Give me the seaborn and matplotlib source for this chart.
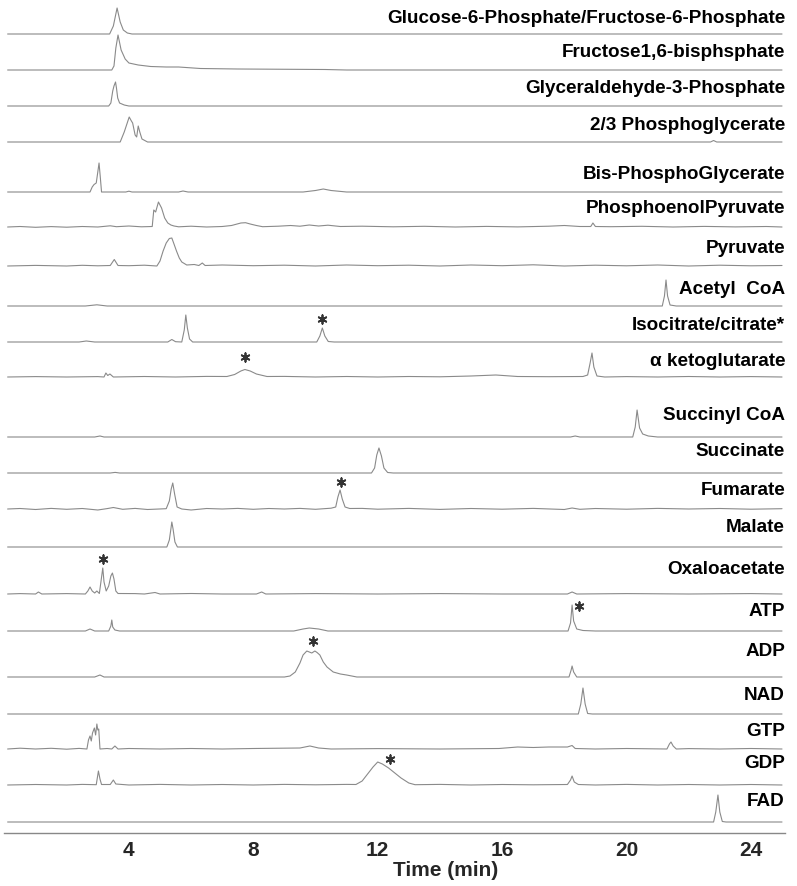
import numpy as np
import pandas as pd
import matplotlib.pyplot as plt
import matplotlib.transforms as mtransforms
import seaborn as sns

# metabolite names, top to bottom
names = [
    'Glucose-6-Phosphate/Fructose-6-Phosphate', 'Fructose1,6-bisphsphate',
    'Glyceraldehyde-3-Phosphate', '2/3 Phosphoglycerate', 'Bis-PhosphoGlycerate',
    'PhosphoenolPyruvate', 'Pyruvate', 'Acetyl  CoA', 'Isocitrate/citrate*',
    'α ketoglutarate', 'Succinyl CoA', 'Succinate', 'Fumarate', 'Malate',
    'Oxaloacetate', 'ATP', 'ADP', 'NAD', 'GTP', 'GDP', 'FAD',
]

# (time in min, signal)
g6p = [(0.1, 0), (3.38, 0), (3.5, 8), (3.62, 26), (3.72, 12), (3.82, 4), (3.95, 1), (4.1, 0), (25.0, 0)]
f16bp = [(0.1, 0), (3.45, 0), (3.52, 4), (3.58, 22), (3.65, 35), (3.75, 20), (3.88, 11), (4.0, 7),
         (4.3, 5), (4.7, 3.5), (5.2, 3), (5.6, 3), (6.3, 1.5), (7.5, 1), (10.3, 0.5), (11.0, 0), (25.0, 0)]
g3p = [(0.1, 0), (3.35, 0), (3.42, 3), (3.48, 15), (3.52, 20), (3.57, 24), (3.6, 18), (3.64, 8),
       (3.7, 3), (3.85, 1), (4.0, 0), (25.0, 0)]
pg23 = [(0.1, 0), (3.72, 0), (3.85, 10), (4.01, 25), (4.08, 21), (4.12, 19), (4.2, 7), (4.25, 5),
        (4.3, 16), (4.35, 10), (4.42, 3), (4.6, 0), (22.7, 0), (22.8, 1.5), (22.9, 0), (25.0, 0)]
bpg = [(0.1, 0), (2.75, 0), (2.82, 5), (2.88, 7.5), (2.95, 9), (3.0, 20), (3.04, 29), (3.08, 15),
       (3.12, 0), (3.9, 0), (4.0, 0.8), (4.1, 0), (5.6, 0), (5.74, 1), (5.9, 0), (9.6, 0), (10.0, 1.5),
       (10.25, 3), (10.5, 1.5), (11.0, 0), (25.0, 0)]
pep = [(0.1, 0), (0.5, 0.5), (1.0, -0.3), (1.5, 0.4), (2.0, -0.2), (2.5, 0.5), (3.0, 0), (3.4, 1.2),
       (3.6, 0.3), (4.0, 1), (4.4, 0.2), (4.75, 0.5), (4.8, 17), (4.86, 15), (4.95, 25), (5.05, 19),
       (5.15, 9), (5.25, 4), (5.35, 2), (5.45, 1), (5.6, 0.2), (6.0, 0.8), (6.5, 0), (7.0, 0.5),
       (7.3, 1.5), (7.6, 4), (7.75, 4.3), (7.9, 3), (8.1, 1.5), (8.3, 0.3), (8.8, 0.8), (9.2, 1.5),
       (9.5, 0.8), (9.8, 2), (10.1, 1), (10.4, 1.8), (10.8, 0.5), (11.5, 0.8), (12.5, 0.2), (13.5, 0.7),
       (14.5, 0), (15.5, 0.6), (16.5, 0.1), (17.5, 0.8), (18.0, 1.5), (18.5, 0.5), (18.85, 0.5),
       (18.92, 4), (19.0, 0.5), (19.5, 0.3), (20.5, 0.7), (21.5, 0), (22.5, 0.6), (23.5, 0.1),
       (24.5, 0.5), (25.0, 0)]
pyruvate = [(0.1, 0), (1.0, 0.6), (2.0, 0), (2.5, 0.7), (3.0, 0.2), (3.4, 0.5), (3.53, 6.5), (3.65, 0.5),
            (4.0, 0.3), (4.5, 0.8), (4.9, 0), (5.0, 5), (5.1, 15), (5.2, 23), (5.3, 27.5), (5.38, 28),
            (5.45, 22), (5.53, 15), (5.62, 8), (5.7, 4), (5.86, 1), (6.1, 1.5), (6.25, 0.5), (6.36, 3),
            (6.45, 0.5), (7, 1), (8, 0.3), (9, 0.8), (10, 0), (11, 1), (12, 0.3), (13, 0.8), (14, 0),
            (15, 1), (16, 0.3), (17, 1.2), (18, 0), (19, 0.8), (20, 0.2), (21, 1), (22, 0), (23, 0.8),
            (24, 0.2), (25.0, 0.5)]
acetyl = [(0.1, 0), (2.6, 0), (2.97, 1.2), (3.3, 0), (21.15, 0), (21.22, 10), (21.27, 26), (21.32, 10),
          (21.4, 1), (21.6, 0), (25.0, 0)]
isocit = [(0.1, 0), (2.4, 0), (2.63, 1), (2.9, 0), (5.25, 0), (5.38, 2.5), (5.5, 0.3), (5.7, 0),
          (5.78, 12), (5.83, 27), (5.88, 14), (5.95, 3), (6.05, 0), (10.04, 0), (10.14, 6), (10.22, 14),
          (10.3, 6), (10.41, 0.5), (10.6, 0), (25.0, 0)]
akg = [(0.1, 0), (1, 0.4), (2, 0), (3.0, 0.4), (3.2, 0), (3.26, 4), (3.32, 1.5), (3.39, 3), (3.5, 0),
       (4.5, 0.5), (5.5, 0), (6.5, 0.6), (7.15, 0.5), (7.4, 2.5), (7.6, 6), (7.73, 7.5), (7.9, 6),
       (8.1, 3), (8.44, 0.5), (9, 0.6), (10, 0), (11, 0.5), (12, 0), (13, 0.5), (14, 0.2), (15, 1),
       (15.8, 2), (16.5, 0.5), (17.5, 0.3), (18.6, 0.5), (18.75, 2), (18.83, 14), (18.89, 24),
       (18.95, 10), (19.05, 1), (19.3, 0), (20, 0.4), (21, 0), (22, 0.5), (23, 0), (24, 0.4), (25.0, 0)]
succoa = [(0.1, 0), (2.9, 0), (3.07, 1), (3.2, 0), (18.2, 0), (18.35, 1), (18.5, 0), (20.2, 0),
          (20.28, 10), (20.34, 27), (20.42, 9), (20.52, 3), (20.7, 1), (21.0, 0), (25.0, 0)]
succinate = [(0.1, 0), (3.4, 0), (3.56, 0.6), (3.7, 0), (11.8, 0), (11.9, 5), (11.97, 18), (12.04, 25),
             (12.12, 17), (12.2, 5), (12.32, 0.5), (12.5, 0), (25.0, 0)]
fumarate = [(0.1, 0), (0.5, 0.5), (1, -0.5), (1.5, 0.6), (2, -0.3), (2.5, 0.5), (3.0, -1), (3.3, 0.4),
            (3.5, 1.5), (3.8, -0.3), (4.2, 0.6), (4.6, -0.5), (5.2, 0.3), (5.3, 8), (5.36, 20),
            (5.41, 26), (5.47, 15), (5.55, 2), (5.7, 0), (6.0, -1), (6.5, 0.5), (7, 0), (7.5, 0.6),
            (8, -0.3), (8.5, 0.5), (9, 0), (9.5, 0.6), (10, -0.3), (10.5, 0.8), (10.65, 2), (10.72, 12),
            (10.79, 19), (10.86, 10), (10.95, 2), (11.1, 0.5), (11.5, 0.6), (12, -0.2), (13, 0.6),
            (14, -0.4), (15, 0.5), (16, -0.2), (17, 0.6), (18, -0.5), (18.25, 1), (18.5, -0.3), (19, 0.5),
            (20, -0.2), (21, 0.6), (22, 0), (23, 0.5), (24, -0.2), (25.0, 0.3)]
malate = [(0.1, 0), (5.22, 0), (5.3, 7), (5.35, 18), (5.38, 25), (5.42, 18), (5.48, 5), (5.56, 0), (25.0, 0)]
oaa = [(0.1, 0), (0.5, 0.4), (1.0, 0), (1.09, 2), (1.2, 0), (2.0, 0.4), (2.6, 0), (2.68, 3), (2.75, 7),
       (2.82, 3), (2.9, 1), (2.97, 3), (3.05, 0.5), (3.1, 12), (3.16, 26), (3.2, 12), (3.27, 3),
       (3.35, 8), (3.42, 18), (3.47, 21), (3.52, 15), (3.58, 3), (3.65, 0.5), (4.2, 0.4), (4.5, 0),
       (4.84, 1.5), (5.0, 0), (6.0, 0.5), (7.0, 0), (8.1, 0), (8.27, 2), (8.4, 0), (10, 0.4), (12, 0),
       (14, 0.4), (16, 0), (18.1, 0), (18.25, 2), (18.4, 0), (20, 0.4), (22, 0), (24, 0.4), (25.0, 0)]
atp = [(0.1, 0), (2.6, 0), (2.75, 2), (2.9, 0), (3.35, 0), (3.42, 5), (3.45, 11), (3.48, 4), (3.55, 1),
       (3.7, 0), (9.3, 0), (9.6, 2), (9.8, 3), (10.1, 2), (10.4, 0), (18.12, 0), (18.2, 8), (18.25, 26),
       (18.3, 10), (18.4, 2), (18.6, 0.5), (19.0, 0), (25.0, 0)]
adp = [(0.1, 0), (2.9, 0), (3.07, 2), (3.2, 0), (9.0, 0), (9.18, 1), (9.35, 5), (9.5, 14), (9.6, 22),
       (9.72, 26), (9.8, 25), (9.88, 24), (9.98, 26), (10.05, 24.5), (10.14, 22), (10.25, 15),
       (10.37, 10), (10.57, 5), (10.8, 3), (11.0, 2), (11.33, 0), (18.15, 0), (18.22, 7), (18.25, 11),
       (18.3, 5), (18.4, 0), (25.0, 0)]
nad = [(0.1, 0), (18.45, 0), (18.53, 10), (18.6, 26), (18.67, 10), (18.75, 0.5), (18.9, 0), (25.0, 0)]
gtp = [(0.1, 0), (0.5, 0.8), (1, 0), (1.5, 0.7), (2, -0.2), (2.4, 0.6), (2.65, 0), (2.7, 9), (2.75, 13),
       (2.79, 8), (2.83, 16), (2.89, 21), (2.93, 14), (2.97, 25), (3.0, 19), (3.03, 20), (3.07, 0),
       (3.3, 0.5), (3.45, 0), (3.55, 3), (3.65, 0), (4, 0.5), (5, 0), (6, 0.5), (7, 0), (8, 0.5),
       (9.5, 1), (9.82, 3), (10.1, 1), (10.5, 0), (12, 0.4), (14, 0), (15.9, 0.5), (16.5, 2),
       (17.0, 1.5), (17.5, 2), (18.1, 2), (18.25, 3.5), (18.35, 0.5), (19, 0), (20, 0.5), (21.3, 0),
       (21.38, 5), (21.43, 7), (21.5, 3), (21.6, 0), (22, 0.4), (23, 0), (24, 0.5), (25.0, 0)]
gdp = [(0.1, 0), (1, 0.5), (2, 0), (2.5, 0.6), (2.95, 0.3), (3.02, 14), (3.07, 6), (3.12, 0.5),
       (3.4, 0.5), (3.5, 5), (3.58, 1), (4, 0), (5, 0.6), (6, 0), (7, 0.5), (8, 0), (9, 0.6), (10, 0.2),
       (11, 0.6), (11.3, 0.5), (11.5, 4), (11.7, 12), (11.85, 18), (12.0, 23), (12.15, 21), (12.35, 17),
       (12.55, 12), (12.75, 7), (13.0, 2), (13.2, 0.3), (14, 0.6), (15, 0), (16, 0.5), (17, 0.2),
       (18.1, 0.5), (18.2, 5), (18.25, 9), (18.32, 3), (18.45, 0.5), (19, 0), (20, 0.6), (21, 0),
       (22, 0.5), (23, 0), (24, 0.5), (25.0, 0)]
fad = [(0.1, 0), (22.8, 0), (22.87, 10), (22.94, 27), (23.0, 10), (23.08, 0.5), (23.2, 0), (25.0, 0)]

traces = [g6p, f16bp, g3p, pg23, bpg, pep, pyruvate, acetyl, isocit, akg, succoa,
          succinate, fumarate, malate, oaa, atp, adp, nad, gtp, gdp, fad]

# peaks marked with an asterisk: (trace index, time, signal level of the mark)
star_trace = [8, 9, 12, 14, 15, 16, 19]
star_time = [10.22, 7.73, 10.83, 3.16, 18.47, 9.92, 12.4]
star_level = [23, 20, 27, 35, 25, 36, 26]

# layout: stacking baselines (pixels from top) and label heights above them
offsets = [34, 70, 106, 142, 192, 227, 266, 306, 342, 377, 437,
           473, 509, 547, 594, 631, 677, 714, 749, 785, 822]
label_gap = [16, 18, 18, 17, 18, 19, 18, 17, 17, 16, 22,
             22, 19, 20, 24, 19, 25, 19, 18, 21, 20]

rows = []
for i, tr in enumerate(traces):
    for t, s in tr:
        rows.append({'name': names[i], 'time': t, 'y': offsets[i] - s})
df = pd.DataFrame(rows)

stars = pd.DataFrame({'time': star_time,
                      'y': [offsets[k] - lv for k, lv in zip(star_trace, star_level)]})

sns.set_style('white')
plt.rcParams['font.family'] = ['Liberation Sans', 'DejaVu Sans']

W, H = 797, 886
fig = plt.figure(figsize=(W / 100, H / 100), dpi=100)
ax = fig.add_axes([4 / W, (H - 833) / H, 781 / W, 833 / H])

sns.lineplot(data=df, x='time', y='y', units='name', estimator=None, sort=False,
             color='#8a8a8a', linewidth=0.8, ax=ax)
# six-armed asterisk marks
sns.scatterplot(data=stars, x='time', y='y', marker=(6, 2, 0), s=38, color='#333333',
                edgecolor='#333333', linewidth=1.3, ax=ax)

ax.set_xlim(-0.016, 25.096)
ax.set_ylim(833, 0)

trans = mtransforms.blended_transform_factory(ax.transAxes, ax.transData)
for i, nm in enumerate(names):
    ax.text(1.0, offsets[i] - label_gap[i], nm, transform=trans, ha='right', va='center',
            fontsize=13.6, fontweight='bold', color='black')

for s in ['left', 'top', 'right']:
    ax.spines[s].set_visible(False)
ax.spines['bottom'].set_color('#888888')
ax.spines['bottom'].set_linewidth(1.0)
ax.set_yticks([])
ax.set_ylabel('')
ax.set_xticks([4, 8, 12, 16, 20, 24])
ax.set_xticks(np.arange(0.5, 25.01, 0.5), minor=True)
ax.tick_params(axis='x', which='both', direction='inout', color='#888888', width=0.8)
ax.tick_params(axis='x', which='major', length=4, pad=4, labelsize=15)
ax.tick_params(axis='x', which='minor', length=3)
for lb in ax.get_xticklabels():
    lb.set_fontweight('bold')
ax.set_xlabel('Time (min)', fontsize=15, fontweight='bold')
ax.xaxis.set_label_coords(0.566, -0.0336)

fig.savefig('out.png', dpi=100)
